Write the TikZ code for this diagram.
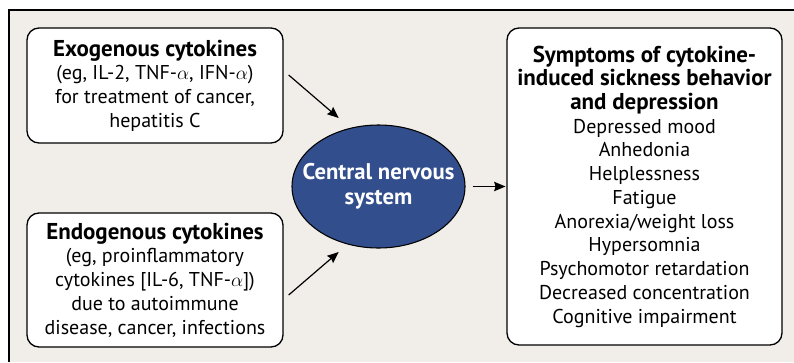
\documentclass[tikz,border=0pt]{standalone}
\usepackage{fontspec}
\setmainfont{PT Sans}
\usepackage{tikz}
\usetikzlibrary{arrows.meta,shapes.geometric}

\definecolor{panelbg}{RGB}{241,238,233}
\definecolor{cnsblue}{RGB}{50,78,140}
\newcommand{\boxtitle}[1]{{\bfseries\fontsize{17.2}{17.8}\selectfont #1}}

\tikzset{
  causebox/.style={draw, line width=1pt, fill=white, rounded corners=9pt, align=center,
    inner sep=0.75pt, font=\fontsize{15}{17.8}\selectfont},
  cnsnode/.style={ellipse, draw, line width=0.8pt, fill=cnsblue, text=white, align=center,
    inner xsep=-11pt, inner ysep=0pt, font=\bfseries\fontsize{17}{19}\selectfont},
  feed/.style={line width=0.9pt, -{Stealth[length=8.5pt,width=7pt,inset=1pt]}}
}

\begin{document}
\begin{tikzpicture}[x=0.75pt,y=0.75pt,yscale=-1,xscale=1]
        \useasboundingbox (0,0) rectangle (794,362);
        % panel
        \fill[panelbg] (9,10) rectangle (794,362);
        \draw[line width=0.9pt] (9,362) -- (9,10) -- (794,10);

        % boxes
        \node[causebox, minimum width=192pt, minimum height=86.25pt] (exo) at (155,85.5)
          {\boxtitle{Exogenous cytokines}\\(eg, IL-2, TNF-$\alpha$, IFN-$\alpha$)\\for treatment of cancer,\\hepatitis C};
        \node[causebox, minimum width=192pt, minimum height=100.5pt] (endo) at (155,280)
          {\boxtitle{Endogenous cytokines}\\(eg, proinflammatory\\cytokines [IL-6, TNF-$\alpha$])\\due to autoimmune\\disease, cancer, infections};
        \node[cnsnode, minimum width=129.75pt, minimum height=92.25pt] (cns) at (378.5,186.5)
          {Central nervous\\system};
        \node[causebox, minimum width=206.25pt, minimum height=237.75pt] (symp) at (644.5,186.5)
          {\boxtitle{Symptoms of cytokine-}\\\boxtitle{induced sickness behavior}\\\boxtitle{and depression}\\
           Depressed mood\\Anhedonia\\Helplessness\\Fatigue\\Anorexia/weight loss\\Hypersomnia\\
           Psychomotor retardation\\Decreased concentration\\Cognitive impairment};

        % arrows
        \draw[feed] (exo.east) ++(5,-10.5) -- ++(50,43);
        \draw[feed] (endo.east) ++(5,15) -- ++(50,-43);
        \draw[feed] (cns.east) ++(7,0) -- ++(33,0);
\end{tikzpicture}
\end{document}
